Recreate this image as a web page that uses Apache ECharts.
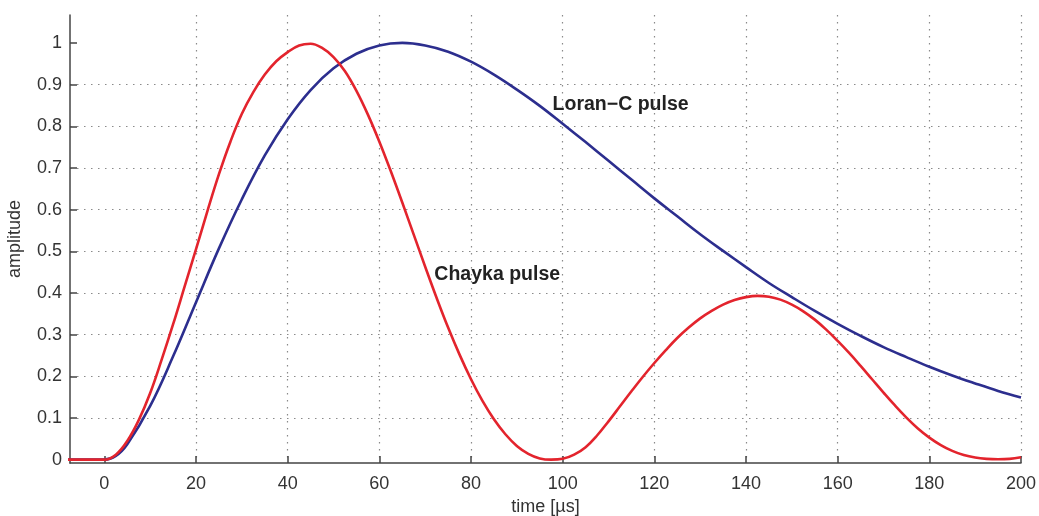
<!DOCTYPE html>
<html><head><meta charset="utf-8">
<script src="https://cdn.jsdelivr.net/npm/echarts@6/dist/echarts.min.js"></script>
<style>html,body{margin:0;padding:0;background:#fff}#c{width:1039px;height:516px}</style>
</head><body><div id="c"></div>
<script>
const xTicks = [0, 20, 40, 60, 80, 100, 120, 140, 160, 180, 200];
const yTicks = [0, 0.1, 0.2, 0.3, 0.4, 0.5, 0.6, 0.7, 0.8, 0.9, 1];

const chaykaTime = [-10, 0, 2.5, 5, 7.5, 10, 12.5, 15, 17.5, 20, 22.5, 25, 27.5, 30, 32.5, 35, 37.5, 40, 42.5, 45, 47.5,
  50, 52.5, 55, 57.5, 60, 62.5, 65, 67.5, 70, 72.5, 75, 77.5, 80, 82.5, 85, 87.5, 90, 92.5, 95, 97.5,
  100, 102.5, 105, 107.5, 110, 112.5, 115, 117.5, 120, 122.5, 125, 127.5, 130, 132.5, 135, 137.5, 140, 142.5, 145, 147.5,
  150, 152.5, 155, 157.5, 160, 162.5, 165, 167.5, 170, 172.5, 175, 177.5, 180, 182.5, 185, 187.5, 190, 192.5, 195, 197.5, 200];
const chaykaAmp = [0, 0, 0.012, 0.045, 0.095, 0.16, 0.24, 0.325, 0.415, 0.505, 0.597, 0.685, 0.763, 0.830, 0.882, 0.924, 0.956, 0.978, 0.994, 0.998, 0.988,
  0.966, 0.932, 0.885, 0.828, 0.763, 0.692, 0.617, 0.540, 0.463, 0.388, 0.317, 0.252, 0.193, 0.141, 0.097, 0.061, 0.033, 0.014, 0.003, 0.000,
  0.002, 0.012, 0.030, 0.058, 0.092, 0.128, 0.164, 0.199, 0.232, 0.263, 0.292, 0.317, 0.339, 0.357, 0.372, 0.383, 0.390, 0.393, 0.391, 0.384,
  0.372, 0.356, 0.336, 0.312, 0.285, 0.256, 0.225, 0.193, 0.161, 0.130, 0.101, 0.075, 0.053, 0.035, 0.021, 0.011, 0.005, 0.002, 0.001, 0.002, 0.006];

const loranTime = [-10, 0, 2.5, 5, 10, 15, 20, 25, 30, 35, 40, 45, 50, 55, 60, 65, 70, 75, 80, 85, 90, 95,
  100, 105, 110, 115, 120, 125, 130, 135, 140, 145, 150, 155, 160, 165, 170, 175, 180, 185, 190, 195, 200];
const loranAmp = [0, 0, 0.009, 0.037, 0.129, 0.248, 0.378, 0.507, 0.625, 0.730, 0.817, 0.887, 0.939, 0.974, 0.994, 1.000, 0.994, 0.979, 0.955, 0.924, 0.888, 0.849,
  0.806, 0.762, 0.717, 0.672, 0.627, 0.584, 0.541, 0.501, 0.462, 0.424, 0.390, 0.357, 0.326, 0.297, 0.270, 0.246, 0.223, 0.202, 0.183, 0.165, 0.149];

const labelLoran = 'Loran\u2212C pulse';
const labelChayka = 'Chayka pulse';

const FONT = '"Liberation Sans", Arial, Helvetica, sans-serif';
const chart = echarts.init(document.getElementById('c'), null, {renderer: 'canvas'});
const zip = (a, b) => a.map((v, i) => [v, b[i]]);
const gridLine = {show: true, lineStyle: {color: '#8a8a8a', type: [1.5, 5.5], width: 1.2}};

chart.setOption({
  animation: false,
  backgroundColor: '#ffffff',
  grid: {left: 70, right: 18, top: 15, bottom: 53, containLabel: false, outerBoundsMode: 'none'},
  xAxis: {
    type: 'value', min: -7.5, max: 200, minInterval: 20, maxInterval: 20,
    name: 'time [\u00b5s]', nameLocation: 'middle', nameGap: 33,
    nameTextStyle: {fontFamily: FONT, fontSize: 18, color: '#333'},
    axisLine: {show: true, onZero: false, lineStyle: {color: '#444', width: 1.5}},
    axisTick: {show: true, inside: true, length: 7, customValues: xTicks, lineStyle: {color: '#444', width: 1.5}},
    axisLabel: {customValues: xTicks, fontFamily: FONT, fontSize: 18, color: '#333', margin: 12},
    splitLine: Object.assign({showMinLine: false, showMaxLine: true}, gridLine)
  },
  yAxis: {
    type: 'value', min: -0.008, max: 1.067, minInterval: 0.1, maxInterval: 0.1,
    name: 'amplitude', nameLocation: 'middle', nameGap: 46,
    nameTextStyle: {fontFamily: FONT, fontSize: 18, color: '#333'},
    axisLine: {show: true, onZero: false, lineStyle: {color: '#444', width: 1.5}},
    axisTick: {show: true, inside: true, length: 7, customValues: yTicks, lineStyle: {color: '#444', width: 1.5}},
    axisLabel: {customValues: yTicks, fontFamily: FONT, fontSize: 18, color: '#333', margin: 8},
    splitLine: Object.assign({showMinLine: false, showMaxLine: false}, gridLine)
  },
  series: [
    {
      name: 'Loran-C', type: 'line', data: zip(loranTime, loranAmp), smooth: 0.4, showSymbol: false, clip: true,
      lineStyle: {color: '#2c2e8e', width: 2.6}, z: 3,
      markPoint: {
        symbol: 'circle', symbolSize: 0, silent: true,
        label: {show: true, position: 'right', distance: 0, formatter: labelLoran, fontFamily: FONT, fontSize: 19.5, fontWeight: 'bold', color: '#222'},
        data: [{coord: [97.8, 0.853]}]
      }
    },
    {
      name: 'Chayka', type: 'line', data: zip(chaykaTime, chaykaAmp), smooth: 0.4, showSymbol: false, clip: true,
      lineStyle: {color: '#e3242d', width: 2.6}, z: 4,
      markPoint: {
        symbol: 'circle', symbolSize: 0, silent: true,
        label: {show: true, position: 'right', distance: 0, formatter: labelChayka, fontFamily: FONT, fontSize: 19.5, fontWeight: 'bold', color: '#222'},
        data: [{coord: [72.0, 0.445]}]
      }
    }
  ]
});
</script>
</body></html>
